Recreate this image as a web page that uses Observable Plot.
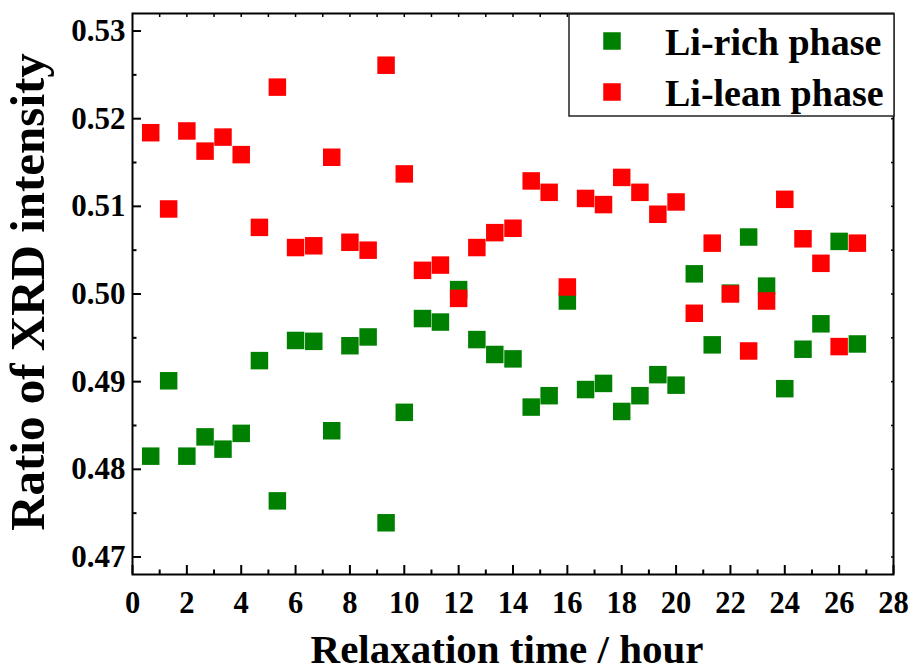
<!DOCTYPE html>
<html>
<head>
<meta charset="utf-8">
<script src="https://cdn.jsdelivr.net/npm/d3@7"></script>
<script src="https://cdn.jsdelivr.net/npm/@observablehq/plot@0.6"></script>
<style>
  html, body { margin: 0; padding: 0; background: #fff; }
  #chart { width: 913px; height: 670px; position: relative; }
</style>
</head>
<body>
<div id="chart"></div>
<script>
// Relaxation time (hours)
const hours = [0.67, 1.33, 2, 2.67, 3.33, 4, 4.67, 5.33, 6, 6.67, 7.33, 8, 8.67, 9.33, 10, 10.67, 11.33, 12, 12.67, 13.33, 14, 14.67, 15.33, 16, 16.67, 17.33, 18, 18.67, 19.33, 20, 20.67, 21.33, 22, 22.67, 23.33, 24, 24.67, 25.33, 26, 26.67];
// Li-rich phase ratio
const liRich = [0.4815, 0.4901, 0.4815, 0.4837, 0.4823, 0.4841, 0.4924, 0.4764, 0.4947, 0.4946, 0.4844, 0.4941, 0.4951, 0.4739, 0.4865, 0.4972, 0.4968, 0.5005, 0.4948, 0.4931, 0.4926, 0.4871, 0.4884, 0.4992, 0.4891, 0.4898, 0.4866, 0.4884, 0.4908, 0.4896, 0.5023, 0.4942, 0.5001, 0.5065, 0.5009, 0.4892, 0.4937, 0.4966, 0.5060, 0.4943];
// Li-lean phase ratio
const liLean = [0.5184, 0.5097, 0.5186, 0.5163, 0.5179, 0.5159, 0.5076, 0.5236, 0.5053, 0.5055, 0.5156, 0.5059, 0.5050, 0.5261, 0.5137, 0.5027, 0.5033, 0.4995, 0.5053, 0.5070, 0.5075, 0.5129, 0.5116, 0.5008, 0.5109, 0.5102, 0.5133, 0.5116, 0.5091, 0.5105, 0.4978, 0.5058, 0.5000, 0.4935, 0.4992, 0.5108, 0.5063, 0.5035, 0.4940, 0.5058];

const seriesNames = ["Li-rich phase", "Li-lean phase"];
const seriesColors = ["#008000", "#ff0000"];

const xTicks = [0, 2, 4, 6, 8, 10, 12, 14, 16, 18, 20, 22, 24, 26, 28];
const xMinorTicks = [1, 3, 5, 7, 9, 11, 13, 15, 17, 19, 21, 23, 25, 27];
const xTopTicks = [1, 2, 3, 4, 5, 6, 7, 8, 9, 10, 11, 12, 13, 14, 15, 16, 17, 18, 19, 20, 21, 22, 23, 24, 25, 26, 27];
const yTicks = [0.47, 0.48, 0.49, 0.50, 0.51, 0.52, 0.53];
const yMinorTicks = [0.475, 0.485, 0.495, 0.505, 0.515, 0.525];
const yRightTicks = [0.47, 0.475, 0.48, 0.485, 0.49, 0.495, 0.50, 0.505, 0.51, 0.515, 0.52, 0.525, 0.53];

const xLabel = "Relaxation time / hour";
const yLabel = "Ratio of XRD intensity";

const richData = hours.map((h, i) => ({hour: h, ratio: liRich[i]}));
const leanData = hours.map((h, i) => ({hour: h, ratio: liLean[i]}));

const FONT = "'Liberation Serif', 'Times New Roman', Times, serif";

const chart = Plot.plot({
  width: 913,
  height: 670,
  marginLeft: 132,
  marginRight: 20,
  marginTop: 13,
  marginBottom: 96,
  x: {domain: [0, 28]},
  y: {domain: [0.468, 0.532]},
  style: {fontFamily: FONT, fontWeight: "bold", color: "#000", background: "#fff", overflow: "visible"},
  marks: [
    Plot.dot(richData, {x: "hour", y: "ratio", symbol: "square", r: 9.87, fill: seriesColors[0]}),
    Plot.dot(leanData, {x: "hour", y: "ratio", symbol: "square", r: 9.87, fill: seriesColors[1]}),
    Plot.axisX(xTicks, {tickSize: -9, tickPadding: 26, fontSize: 30.5, strokeWidth: 2, label: null}),
    Plot.axisX(xMinorTicks, {tickSize: -4.5, tickFormat: () => "", strokeWidth: 2, label: null}),
    Plot.axisX(xTopTicks, {anchor: "top", tickSize: -3, tickFormat: () => "", strokeWidth: 1.5, label: null}),
    Plot.axisY(yTicks, {tickSize: -9, tickPadding: 16, fontSize: 31, tickFormat: d3.format(".2f"), strokeWidth: 2, label: null}),
    Plot.axisY(yMinorTicks, {tickSize: -4.5, tickFormat: () => "", strokeWidth: 2, label: null}),
    Plot.axisY(yRightTicks, {anchor: "right", tickSize: -3, tickFormat: () => "", strokeWidth: 1.5, label: null}),
    Plot.frame({strokeWidth: 2}),
    Plot.text([xLabel], {frameAnchor: "bottom", dx: -6, dy: 75, textAnchor: "middle", lineAnchor: "middle", fontSize: 41, fontWeight: "bold"}),
    Plot.text([yLabel], {frameAnchor: "left", rotate: -90, dx: -104, dy: -2, textAnchor: "middle", lineAnchor: "middle", fontSize: 49, fontWeight: "bold"})
  ]
});

document.getElementById("chart").appendChild(chart);

// Legend (inside the plot area, top-right)
const svg = d3.select(chart);
const lg = svg.append("g").attr("class", "legend");
lg.append("rect").attr("x", 569).attr("y", 14).attr("width", 325).attr("height", 102)
  .attr("fill", "#fff").attr("stroke", "#222").attr("stroke-width", 1.5);
seriesNames.forEach((name, i) => {
  const cy = 41 + i * 51;
  lg.append("rect").attr("x", 612 - 8.75).attr("y", cy - 8.75).attr("width", 17.5).attr("height", 17.5)
    .attr("fill", seriesColors[i]);
  lg.append("text").attr("x", 665).attr("y", cy + 13.5)
    .attr("text-anchor", "start")
    .attr("font-family", FONT).attr("font-weight", "bold").attr("font-size", 38)
    .attr("fill", "#000").text(name);
});
</script>
</body>
</html>
